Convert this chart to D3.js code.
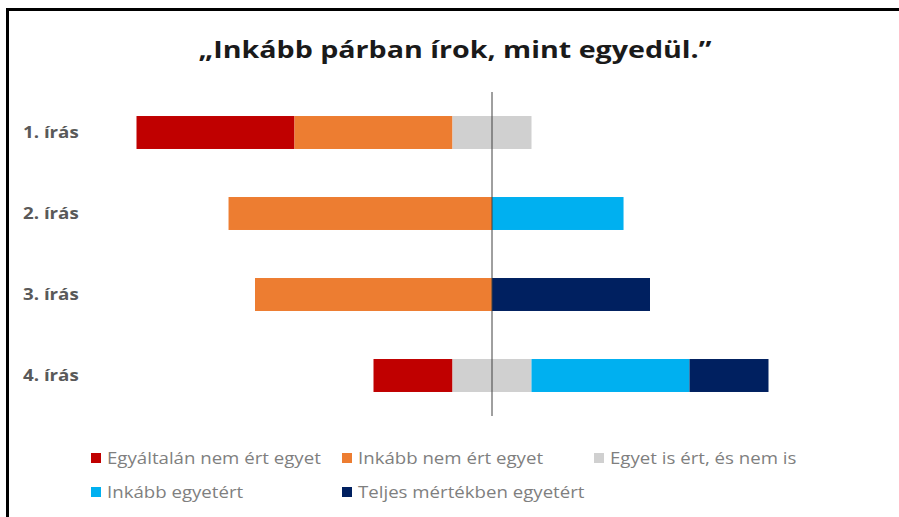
<!DOCTYPE html>
<html>
<head>
<meta charset="utf-8">
<script src="https://cdn.jsdelivr.net/npm/d3@7"></script>
<style>
    body { margin: 0; background: #fff; }
    svg { display: block; font-family: "Open Sans", sans-serif; }
    .rowLabel { font-weight: bold; fill: #595959; }
    .legendText { fill: #7f7f7f; }
</style>
</head>
<body>
<script>
(function(){

    //chart data
    var title = "\u201EInkább párban írok, mint egyedül.\u201D";
    var categories = ["1. írás", "2. írás", "3. írás", "4. írás"];
    var seriesNames = ["Egyáltalán nem ért egyet", "Inkább nem ért egyet", "Egyet is ért, és nem is", "Inkább egyetért", "Teljes mértékben egyetért"];
    var nemErt = [40, 0, 0, 20];        //Egyáltalán nem ért egyet (%)
    var inkabbNem = [40, 66.7, 60, 0];  //Inkább nem ért egyet (%)
    var semleges = [20, 0, 0, 20];      //Egyet is ért, és nem is (%)
    var inkabbIgen = [0, 33.3, 0, 40];  //Inkább egyetért (%)
    var teljesen = [0, 0, 40, 20];      //Teljes mértékben egyetért (%)
    var colors = ["#C00000", "#ED7D31", "#D0D0D0", "#00B0F0", "#002060"];

    window.onload = setChart();

    //the reference picture is stretched sideways, so text is widened a bit
    function stretch(sel, factor){
        sel.each(function(){
            var w = this.getComputedTextLength();
            d3.select(this)
                .attr("textLength", w * factor)
                .attr("lengthAdjust", "spacingAndGlyphs");
        });
    };

    function setChart(){
        var width = 899,
            height = 517;

        var svg = d3.select("body")
            .append("svg")
            .attr("width", width)
            .attr("height", height);

        //frame (only top and left edge fall inside the picture)
        svg.append("rect")
            .attr("x", 7.5)
            .attr("y", 9.5)
            .attr("width", 1000)
            .attr("height", 1000)
            .style("fill", "none")
            .style("stroke", "#000")
            .style("stroke-width", 3);

        //title
        svg.append("text")
            .attr("x", 455)
            .attr("y", 58)
            .attr("text-anchor", "middle")
            .attr("textLength", 513)
            .attr("lengthAdjust", "spacingAndGlyphs")
            .style("font-size", "24px")
            .style("font-weight", "bold")
            .style("fill", "#1a1a1a")
            .text(title);

        //scales
        var xScale = d3.scaleLinear()
            .domain([-100, 100])
            .range([97, 887]);

        var yScale = d3.scaleBand()
            .domain(categories)
            .range([92, 416])
            .paddingInner(0.593)
            .paddingOuter(0.2965);

        //build diverging segments: neutral is split in half around zero
        var allSeries = [nemErt, inkabbNem, semleges, inkabbIgen, teljesen];
        var segments = [];
        categories.forEach(function(cat, i){
            var left = -(nemErt[i] + inkabbNem[i] + semleges[i] / 2);
            allSeries.forEach(function(arr, s){
                if (arr[i] > 0){
                    segments.push({cat: cat, s: s, x0: left, x1: left + arr[i]});
                }
                left += arr[i];
            });
        });

        svg.selectAll(".bars")
            .data(segments)
            .enter()
            .append("rect")
            .attr("class", "bars")
            .attr("x", function(d){ return xScale(d.x0); })
            .attr("width", function(d){ return xScale(d.x1) - xScale(d.x0); })
            .attr("y", function(d){ return yScale(d.cat); })
            .attr("height", yScale.bandwidth())
            .style("fill", function(d){ return colors[d.s]; });

        //zero line
        svg.append("line")
            .attr("x1", xScale(0))
            .attr("x2", xScale(0))
            .attr("y1", 92)
            .attr("y2", 416)
            .style("stroke", "#404040")
            .style("stroke-width", 1);

        //category labels
        var labels = svg.selectAll(".rowLabel")
            .data(categories)
            .enter()
            .append("text")
            .attr("class", "rowLabel")
            .attr("x", 23)
            .attr("y", function(d){ return yScale(d) + yScale.bandwidth() / 2; })
            .attr("dy", "0.36em")
            .style("font-size", "16px")
            .text(function(d){ return d; });
        stretch(labels, 1.17);

        //legend
        var legendPos = [[91, 453], [342, 453], [594, 453], [91, 487], [342, 487]];
        var legend = svg.selectAll(".legendItem")
            .data(seriesNames)
            .enter()
            .append("g")
            .attr("class", "legendItem")
            .attr("transform", function(d, i){
                return "translate(" + legendPos[i][0] + "," + legendPos[i][1] + ")";
            });

        legend.append("rect")
            .attr("width", 10)
            .attr("height", 10)
            .style("fill", function(d, i){ return colors[i]; });

        var legendText = legend.append("text")
            .attr("class", "legendText")
            .attr("x", 16)
            .attr("y", 10.5)
            .style("font-size", "16px")
            .text(function(d){ return d; });
        stretch(legendText, 1.165);
    };

})();
</script>
</body>
</html>
